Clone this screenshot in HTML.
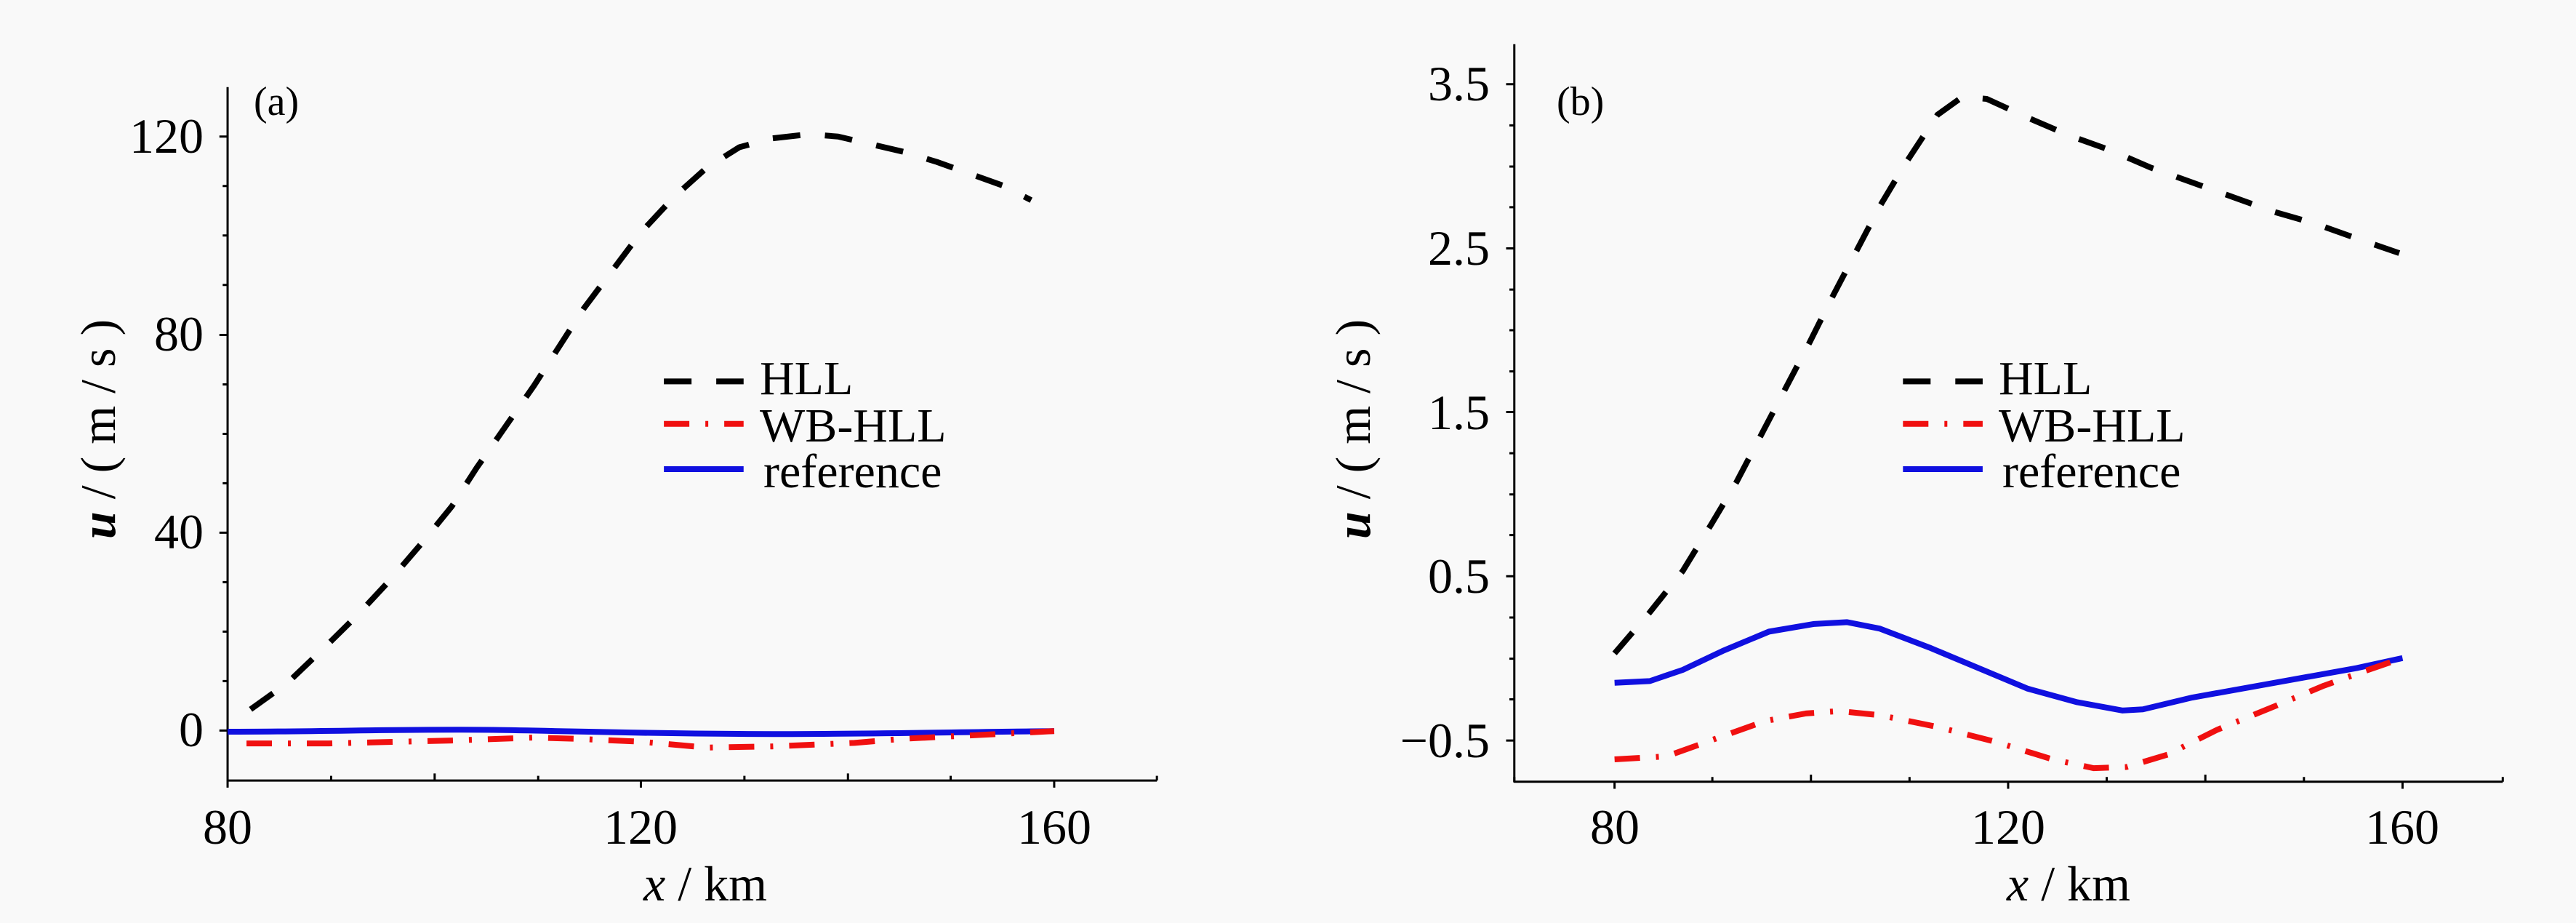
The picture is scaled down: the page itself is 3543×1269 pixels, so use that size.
<!DOCTYPE html>
<html><head><meta charset="utf-8"><style>
html,body{margin:0;padding:0;background:#f9f9f9}
svg{display:block}
text{font-family:"Liberation Serif",serif;fill:#000}
</style></head><body>
<svg width="3543" height="1269" viewBox="0 0 3543 1269" xmlns="http://www.w3.org/2000/svg">
<rect width="3543" height="1269" fill="#f9f9f9"/>
<!-- Panel a -->
<g transform="scale(1.1301,0.8093)" fill="none" stroke-linejoin="round">
 <g stroke="#000" stroke-width="3">
  <path vector-effect="non-scaling-stroke" d="M277,148 V1326 H1408"/>
  <path vector-effect="non-scaling-stroke" d="M277,232 h-10 M277,569 h-10 M277,905 h-10 M277,1241 h-10 M277,316 h-6 M277,400 h-6 M277,484 h-6 M277,653 h-6 M277,737 h-6 M277,821 h-6 M277,989 h-6 M277,1073 h-6 M277,1157 h-6
  M277,1326 v12 M529,1326 v-12 M780,1326 v12 M1032,1326 v-12 M1283,1326 v12 M403,1326 v-8 M655,1326 v-8 M906,1326 v-8 M1157,1326 v-8 M1408,1326 v-8"/>
 </g>
 <path vector-effect="non-scaling-stroke" stroke="#1010e0" stroke-width="8" d="M277,1243 C400,1243 500,1238 600,1240 C700,1242 800,1247 940,1247 C1050,1247 1150,1244 1283,1242"/>
 <path vector-effect="non-scaling-stroke" stroke="#f01010" stroke-width="8" stroke-dasharray="35,22,4,22" d="M300,1263 L400,1263 L550,1258 L650,1253 L700,1255 L780,1260 L860,1270 L940,1268 L1040,1262 L1100,1255 L1200,1248 L1283,1242"/>
 <path vector-effect="non-scaling-stroke" stroke="#000" stroke-width="8" stroke-dasharray="38,34" d="M305,1205 L350,1160 L395,1100 L435,1045 L475,985 L515,920 L550,860 L580,795 L615,725 L650,655 L680,590 L710,525 L745,460 L780,395 L820,335 L860,285 L900,250 L940,235 L985,228 L1020,232 L1060,245 L1100,258 L1140,275 L1180,295 L1220,315 L1255,340"/>
 <path vector-effect="non-scaling-stroke" stroke="#000" stroke-width="8" stroke-dasharray="38,34" d="M808,648 H905"/>
 <path vector-effect="non-scaling-stroke" stroke="#f01010" stroke-width="8" stroke-dasharray="35,22,4,22" d="M808,720 H905"/>
 <path vector-effect="non-scaling-stroke" stroke="#1010e0" stroke-width="8" d="M808,797 H905"/>
</g>
<g font-size="68">
 <text x="280" y="210" text-anchor="end">120</text>
 <text x="280" y="482" text-anchor="end">80</text>
 <text x="280" y="754" text-anchor="end">40</text>
 <text x="280" y="1026" text-anchor="end">0</text>
 <text x="313" y="1160" text-anchor="middle">80</text>
 <text x="881" y="1160" text-anchor="middle">120</text>
 <text x="1450" y="1160" text-anchor="middle">160</text>
 <text x="349" y="158" font-size="56">(a)</text>
 <text x="1045" y="542" font-size="66">HLL</text>
 <text x="1045" y="607" font-size="66">WB-HLL</text>
 <text x="1050" y="670" font-size="66">reference</text>
 <text x="970" y="1238" text-anchor="middle"><tspan font-style="italic">x</tspan> / km</text>
 <text transform="translate(158,590) rotate(-90)" text-anchor="middle"><tspan font-style="italic" font-weight="bold">u</tspan> / ( m / s )</text>
</g>
<!-- Panel b -->
<g transform="translate(1772,0) scale(1.1301,0.8093)" fill="none" stroke-linejoin="round">
 <g stroke="#000" stroke-width="3">
  <path vector-effect="non-scaling-stroke" d="M275,75 V1328 H1478"/>
  <path vector-effect="non-scaling-stroke" d="M275,143 h-10 M275,422 h-10 M275,700 h-10 M275,979 h-10 M275,1258 h-10 M275,213 h-6 M275,283 h-6 M275,352 h-6 M275,492 h-6 M275,561 h-6 M275,631 h-6 M275,770 h-6 M275,840 h-6 M275,909 h-6 M275,1049 h-6 M275,1119 h-6 M275,1188 h-6
  M397,1328 v12 M876,1328 v12 M1356,1328 v12 M275,1328 v-8 M516,1328 v-8 M636,1328 v-12 M756,1328 v-8 M996,1328 v-8 M1116,1328 v-12 M1236,1328 v-8 M1478,1328 v-8"/>
 </g>
 <path vector-effect="non-scaling-stroke" stroke="#1010e0" stroke-width="8" d="M397,1160 L440,1157 L480,1138 L530,1105 L585,1073 L640,1060 L680,1057 L720,1068 L780,1100 L840,1135 L900,1170 L960,1193 L1015,1207 L1040,1205 L1100,1185 L1200,1160 L1300,1135 L1356,1118"/>
 <path vector-effect="non-scaling-stroke" stroke="#f01010" stroke-width="8" stroke-dasharray="35,22,4,22" d="M397,1290 L460,1285 L520,1255 L580,1225 L630,1212 L670,1208 L720,1215 L790,1235 L860,1260 L930,1290 L980,1305 L1020,1303 L1070,1282 L1130,1240 L1200,1200 L1260,1165 L1310,1140 L1356,1118"/>
 <path vector-effect="non-scaling-stroke" stroke="#000" stroke-width="8" stroke-dasharray="38,34" d="M397,1110 L440,1040 L480,970 L515,890 L545,820 L575,740 L605,660 L635,580 L660,510 L690,430 L720,350 L750,280 L790,195 L820,165 L850,168 L900,200 L950,230 L1000,255 L1050,285 L1100,310 L1150,335 L1200,360 L1250,380 L1300,405 L1352,430"/>
 <path vector-effect="non-scaling-stroke" stroke="#000" stroke-width="8" stroke-dasharray="38,34" d="M748,648 H845"/>
 <path vector-effect="non-scaling-stroke" stroke="#f01010" stroke-width="8" stroke-dasharray="35,22,4,22" d="M748,720 H845"/>
 <path vector-effect="non-scaling-stroke" stroke="#1010e0" stroke-width="8" d="M748,797 H845"/>
</g>
<g font-size="68">
 <text x="2049" y="138" text-anchor="end">3.5</text>
 <text x="2049" y="364" text-anchor="end">2.5</text>
 <text x="2049" y="590" text-anchor="end">1.5</text>
 <text x="2049" y="815" text-anchor="end">0.5</text>
 <text x="2049" y="1041" text-anchor="end">−0.5</text>
 <text x="2221" y="1160" text-anchor="middle">80</text>
 <text x="2762" y="1160" text-anchor="middle">120</text>
 <text x="3304" y="1160" text-anchor="middle">160</text>
 <text x="2141" y="158" font-size="56">(b)</text>
 <text x="2749" y="542" font-size="66">HLL</text>
 <text x="2749" y="607" font-size="66">WB-HLL</text>
 <text x="2754" y="670" font-size="66">reference</text>
 <text x="2845" y="1238" text-anchor="middle"><tspan font-style="italic">x</tspan> / km</text>
 <text transform="translate(1884,590) rotate(-90)" text-anchor="middle"><tspan font-style="italic" font-weight="bold">u</tspan> / ( m / s )</text>
</g>
</svg>
</body></html>
